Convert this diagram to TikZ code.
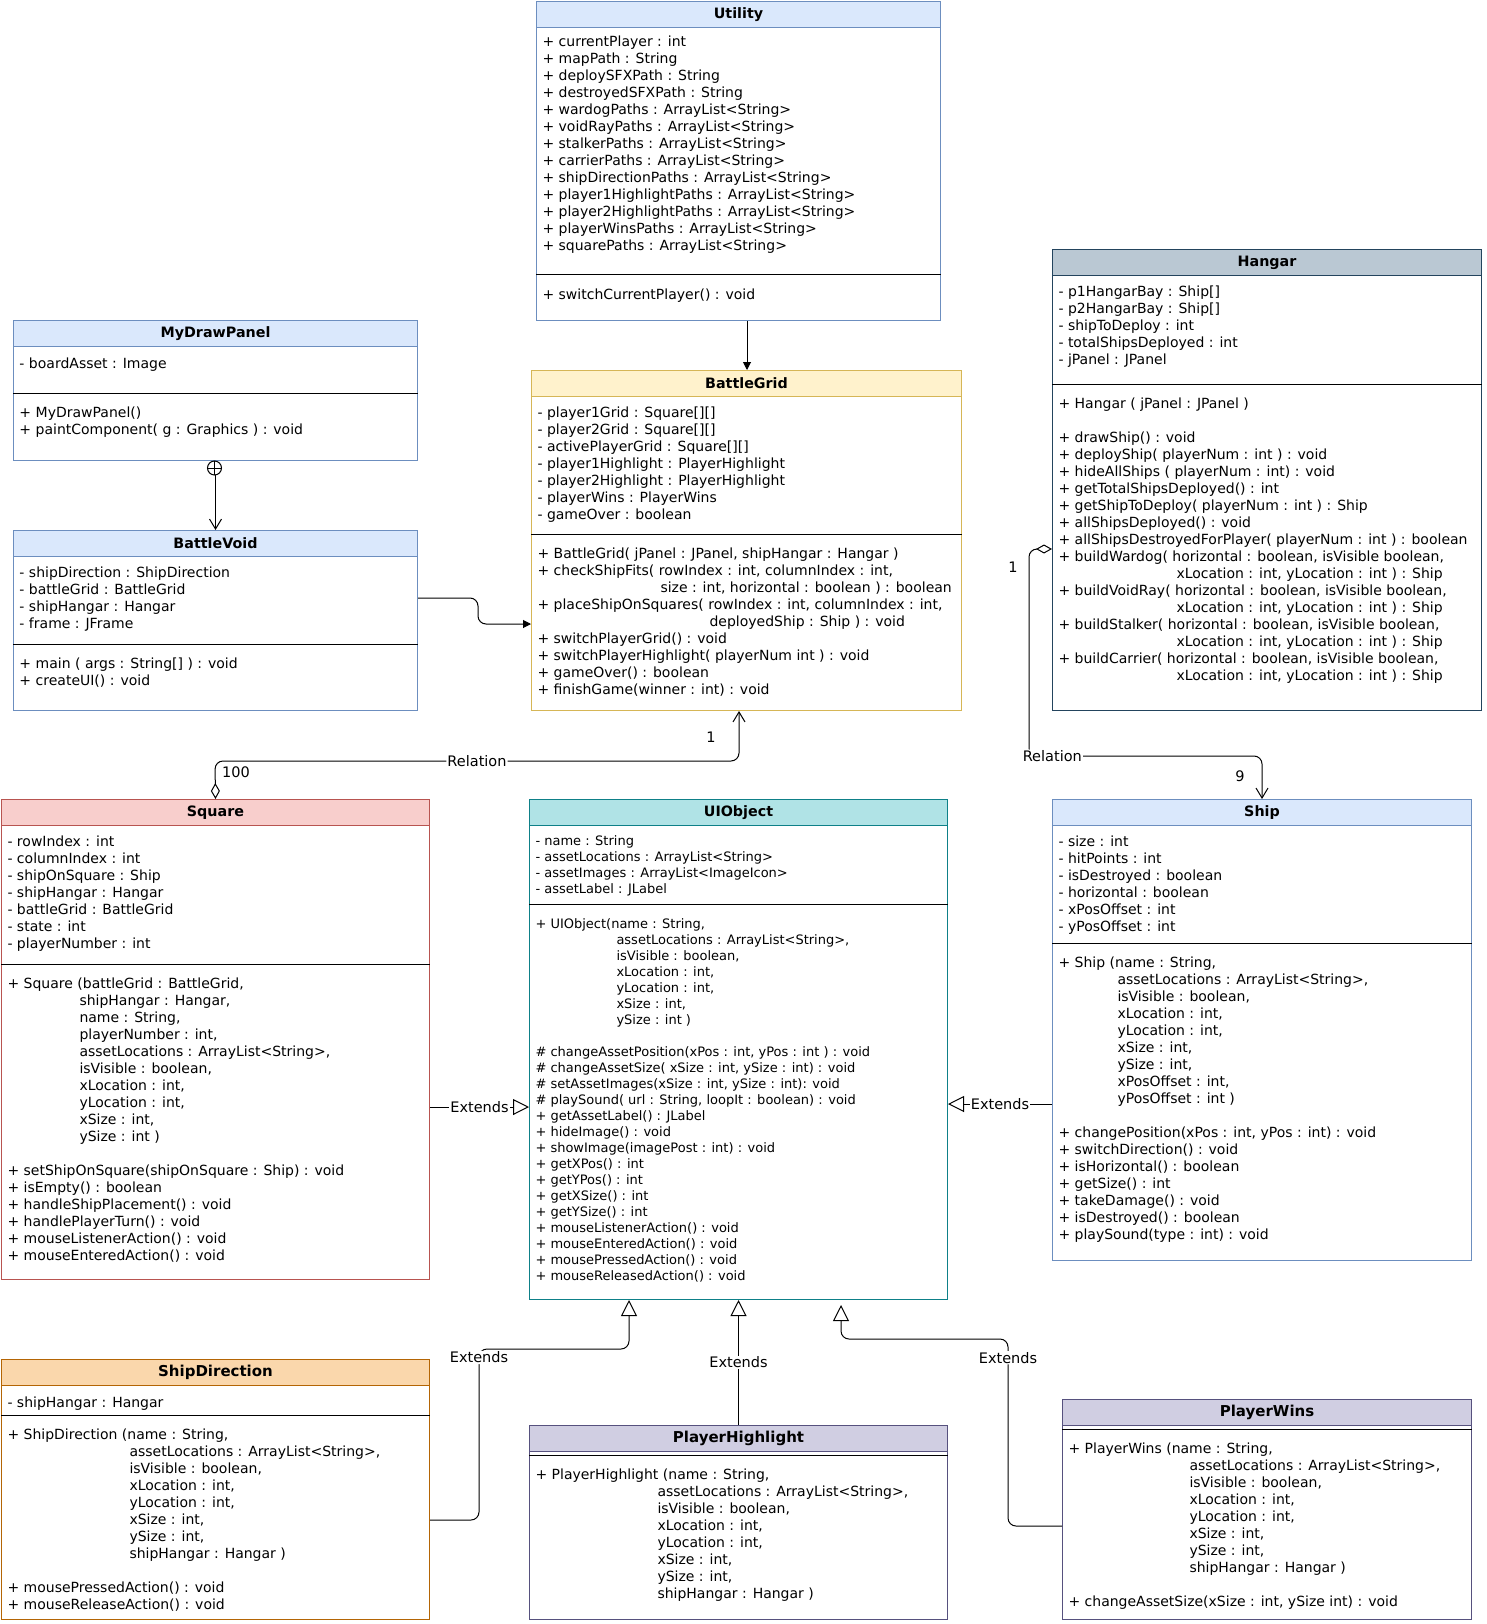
\documentclass[tikz,border=0pt]{standalone}
\usepackage{fontspec}
\setmainfont{DejaVu Sans}
\usetikzlibrary{arrows.meta}
\definecolor{bfill}{HTML}{DAE8FC}\definecolor{bline}{HTML}{6C8EBF}
\definecolor{yfill}{HTML}{FFF2CC}\definecolor{yline}{HTML}{D6B656}
\definecolor{gfill}{HTML}{BAC8D3}\definecolor{gline}{HTML}{23445D}
\definecolor{rfill}{HTML}{F8CECC}\definecolor{rline}{HTML}{B85450}
\definecolor{tfill}{HTML}{B0E3E6}\definecolor{tline}{HTML}{0E8088}
\definecolor{ofill}{HTML}{FAD7AC}\definecolor{oline}{HTML}{B46504}
\definecolor{pfill}{HTML}{D0CEE2}\definecolor{pline}{HTML}{56517E}
\begin{document}
\begin{tikzpicture}[x=1pt,y=-1pt,line width=1pt,
  every node/.style={font=\fontsize{14}{17}\selectfont},
  cbox/.style 2 args={draw,fill=white,anchor=north west,inner sep=0pt,minimum width=#1,minimum height=#2},
  chead/.style={draw,anchor=north,inner sep=0pt,minimum width=#1,minimum height=26,font=\fontsize{14.3}{17}\selectfont\bfseries},
  bighead/.style={font=\fontsize{15}{17}\selectfont\bfseries},
  ctext/.style={anchor=north west,inner sep=0pt,align=left,xshift=6pt,yshift=-9pt,execute at begin node=\strut},
  mtext/.style={ctext,yshift=-4pt},
  uitext/.style={font=\fontsize{13}{16}\selectfont},
  lbl/.style={fill=white,inner sep=1pt,font=\fontsize{14.5}{17}\selectfont},
  inh/.tip={Triangle[open,length=16pt,width=16pt]},
  agg/.tip={Diamond[open,length=16pt,width=9pt]},
  opn/.tip={Straight Barb[length=10pt,width=12pt]},
  fil/.tip={Triangle[length=8pt,width=8pt]}]
\useasboundingbox (0,0) rectangle (1486,1624);

\node[cbox={404}{319},draw=bline] (util) at (536,1) {};
\node[chead=404,fill=bfill,draw=bline] (util-h) at (util.north) {Utility};
\draw (util.west |- 0,274) -- (util.east |- 0,274);
\node[ctext,yshift=1.5pt] (util-a) at (util-h.south west) {+ currentPlayer : int\\+ mapPath : String\\+ deploySFXPath : String\\+ destroyedSFXPath : String\\+ wardogPaths : ArrayList<String>\\+ voidRayPaths : ArrayList<String>\\+ stalkerPaths : ArrayList<String>\\+ carrierPaths : ArrayList<String>\\+ shipDirectionPaths : ArrayList<String>\\+ player1HighlightPaths : ArrayList<String>\\+ player2HighlightPaths : ArrayList<String>\\+ playerWinsPaths : ArrayList<String>\\+ squarePaths : ArrayList<String>};
\node[mtext] (util-m) at (util.west |- 0,274) {+ switchCurrentPlayer() : void};

\node[cbox={404}{140},draw=bline] (mdp) at (13,320) {};
\node[chead=404,fill=bfill,draw=bline] (mdp-h) at (mdp.north) {MyDrawPanel};
\draw (mdp.west |- 0,393) -- (mdp.east |- 0,393);
\node[ctext] (mdp-a) at (mdp-h.south west) {- boardAsset : Image};
\node[mtext] (mdp-m) at (mdp.west |- 0,393) {+ MyDrawPanel()\\+ paintComponent( g : Graphics ) : void};

\node[cbox={404}{180},draw=bline] (bv) at (13,530) {};
\node[chead=404,fill=bfill,draw=bline] (bv-h) at (bv.north) {BattleVoid};
\draw (bv.west |- 0,644) -- (bv.east |- 0,644);
\node[ctext] (bv-a) at (bv-h.south west) {- shipDirection : ShipDirection\\- battleGrid : BattleGrid\\- shipHangar : Hangar\\- frame : JFrame};
\node[mtext] (bv-m) at (bv.west |- 0,644) {+ main ( args : String[] ) : void\\+ createUI() : void};

\node[cbox={430}{340},draw=yline] (bg) at (531,370) {};
\node[chead=430,fill=yfill,draw=yline] (bg-h) at (bg.north) {BattleGrid};
\draw (bg.west |- 0,534) -- (bg.east |- 0,534);
\node[ctext] (bg-a) at (bg-h.south west) {- player1Grid : Square[][]\\- player2Grid : Square[][]\\- activePlayerGrid : Square[][]\\- player1Highlight : PlayerHighlight\\- player2Highlight : PlayerHighlight\\- playerWins : PlayerWins\\- gameOver : boolean};
\node[mtext] (bg-m) at (bg.west |- 0,534) {+ BattleGrid( jPanel : JPanel, shipHangar : Hangar )\\+ checkShipFits( rowIndex : int, columnIndex : int,\\\hspace*{123pt}size : int, horizontal : boolean ) : boolean\\+ placeShipOnSquares( rowIndex : int, columnIndex : int,\\\hspace*{172pt}deployedShip : Ship ) : void\\+ switchPlayerGrid() : void\\+ switchPlayerHighlight( playerNum int ) : void\\+ gameOver() : boolean\\+ finishGame(winner : int) : void};

\node[cbox={429}{461},draw=gline] (hg) at (1052,249) {};
\node[chead=429,fill=gfill,draw=gline] (hg-h) at (hg.north) {Hangar};
\draw (hg.west |- 0,384) -- (hg.east |- 0,384);
\node[ctext] (hg-a) at (hg-h.south west) {- p1HangarBay : Ship[]\\- p2HangarBay : Ship[]\\- shipToDeploy : int\\- totalShipsDeployed : int\\- jPanel : JPanel};
\node[mtext] (hg-m) at (hg.west |- 0,384) {+ Hangar ( jPanel : JPanel )\\[17pt]+ drawShip() : void\\+ deployShip( playerNum : int ) : void\\+ hideAllShips ( playerNum : int) : void\\+ getTotalShipsDeployed() : int\\+ getShipToDeploy( playerNum : int ) : Ship\\+ allShipsDeployed() : void\\+ allShipsDestroyedForPlayer( playerNum : int ) : boolean\\+ buildWardog( horizontal : boolean, isVisible boolean,\\\hspace*{118pt}xLocation : int, yLocation : int ) : Ship\\+ buildVoidRay( horizontal : boolean, isVisible boolean,\\\hspace*{118pt}xLocation : int, yLocation : int ) : Ship\\+ buildStalker( horizontal : boolean, isVisible boolean,\\\hspace*{118pt}xLocation : int, yLocation : int ) : Ship\\+ buildCarrier( horizontal : boolean, isVisible boolean,\\\hspace*{118pt}xLocation : int, yLocation : int ) : Ship};

\node[cbox={428}{480},draw=rline] (sq) at (1,799) {};
\node[chead=428,fill=rfill,draw=rline] (sq-h) at (sq.north) {Square};
\draw (sq.west |- 0,964) -- (sq.east |- 0,964);
\node[ctext] (sq-a) at (sq-h.south west) {- rowIndex : int\\- columnIndex : int\\- shipOnSquare : Ship\\- shipHangar : Hangar\\- battleGrid : BattleGrid\\- state : int\\- playerNumber : int};
\node[mtext] (sq-m) at (sq.west |- 0,964) {+ Square (battleGrid : BattleGrid,\\\hspace*{72pt}shipHangar : Hangar,\\\hspace*{72pt}name : String,\\\hspace*{72pt}playerNumber : int,\\\hspace*{72pt}assetLocations : ArrayList<String>,\\\hspace*{72pt}isVisible : boolean,\\\hspace*{72pt}xLocation : int,\\\hspace*{72pt}yLocation : int,\\\hspace*{72pt}xSize : int,\\\hspace*{72pt}ySize : int )\\[17pt]+ setShipOnSquare(shipOnSquare : Ship) : void\\+ isEmpty() : boolean\\+ handleShipPlacement() : void\\+ handlePlayerTurn() : void\\+ mouseListenerAction() : void\\+ mouseEnteredAction() : void};

\node[cbox={418}{500},draw=tline] (uio) at (529,799) {};
\node[chead=418,fill=tfill,draw=tline] (uio-h) at (uio.north) {UIObject};
\draw (uio.west |- 0,904) -- (uio.east |- 0,904);
\node[ctext,uitext] (uio-a) at (uio-h.south west) {- name : String\\- assetLocations : ArrayList<String>\\- assetImages : ArrayList<ImageIcon>\\- assetLabel : JLabel};
\node[mtext,uitext,yshift=-1pt] (uio-m) at (uio.west |- 0,904) {+ UIObject(name : String,\\\hspace*{81pt}assetLocations : ArrayList<String>,\\\hspace*{81pt}isVisible : boolean,\\\hspace*{81pt}xLocation : int,\\\hspace*{81pt}yLocation : int,\\\hspace*{81pt}xSize : int,\\\hspace*{81pt}ySize : int )\\[16pt]\# changeAssetPosition(xPos : int, yPos : int ) : void\\\# changeAssetSize( xSize : int, ySize : int) : void\\\# setAssetImages(xSize : int, ySize : int): void\\\# playSound( url : String, loopIt : boolean) : void\\+ getAssetLabel() : JLabel\\+ hideImage() : void\\+ showImage(imagePost : int) : void\\+ getXPos() : int\\+ getYPos() : int\\+ getXSize() : int\\+ getYSize() : int\\+ mouseListenerAction() : void\\+ mouseEnteredAction() : void\\+ mousePressedAction() : void\\+ mouseReleasedAction() : void};

\node[cbox={419}{461},draw=bline] (sh) at (1052,799) {};
\node[chead=419,fill=bfill,draw=bline] (sh-h) at (sh.north) {Ship};
\draw (sh.west |- 0,943) -- (sh.east |- 0,943);
\node[ctext] (sh-a) at (sh-h.south west) {- size : int\\- hitPoints : int\\- isDestroyed : boolean\\- horizontal : boolean\\- xPosOffset : int\\- yPosOffset : int};
\node[mtext] (sh-m) at (sh.west |- 0,943) {+ Ship (name : String,\\\hspace*{59pt}assetLocations : ArrayList<String>,\\\hspace*{59pt}isVisible : boolean,\\\hspace*{59pt}xLocation : int,\\\hspace*{59pt}yLocation : int,\\\hspace*{59pt}xSize : int,\\\hspace*{59pt}ySize : int,\\\hspace*{59pt}xPosOffset : int,\\\hspace*{59pt}yPosOffset : int )\\[17pt]+ changePosition(xPos : int, yPos : int) : void\\+ switchDirection() : void\\+ isHorizontal() : boolean\\+ getSize() : int\\+ takeDamage() : void\\+ isDestroyed() : boolean\\+ playSound(type : int) : void};

\node[cbox={428}{260},draw=oline] (sd) at (1,1359) {};
\node[chead=428,bighead,fill=ofill,draw=oline] (sd-h) at (sd.north) {ShipDirection};
\draw (sd.west |- 0,1415) -- (sd.east |- 0,1415);
\node[ctext] (sd-a) at (sd-h.south west) {- shipHangar : Hangar};
\node[mtext] (sd-m) at (sd.west |- 0,1415) {+ ShipDirection (name : String,\\\hspace*{122pt}assetLocations : ArrayList<String>,\\\hspace*{122pt}isVisible : boolean,\\\hspace*{122pt}xLocation : int,\\\hspace*{122pt}yLocation : int,\\\hspace*{122pt}xSize : int,\\\hspace*{122pt}ySize : int,\\\hspace*{122pt}shipHangar : Hangar )\\[17pt]+ mousePressedAction() : void\\+ mouseReleaseAction() : void};

\node[cbox={418}{194},draw=pline] (ph) at (529,1425) {};
\node[chead=418,bighead,fill=pfill,draw=pline] (ph-h) at (ph.north) {PlayerHighlight};
\draw (ph.west |- 0,1455) -- (ph.east |- 0,1455);
\node[mtext] (ph-m) at (ph.west |- 0,1455) {+ PlayerHighlight (name : String,\\\hspace*{122pt}assetLocations : ArrayList<String>,\\\hspace*{122pt}isVisible : boolean,\\\hspace*{122pt}xLocation : int,\\\hspace*{122pt}yLocation : int,\\\hspace*{122pt}xSize : int,\\\hspace*{122pt}ySize : int,\\\hspace*{122pt}shipHangar : Hangar )};

\node[cbox={409}{220},draw=pline] (pw) at (1062,1399) {};
\node[chead=409,bighead,fill=pfill,draw=pline] (pw-h) at (pw.north) {PlayerWins};
\draw (pw.west |- 0,1429) -- (pw.east |- 0,1429);
\node[mtext] (pw-m) at (pw.west |- 0,1429) {+ PlayerWins (name : String,\\\hspace*{121pt}assetLocations : ArrayList<String>,\\\hspace*{121pt}isVisible : boolean,\\\hspace*{121pt}xLocation : int,\\\hspace*{121pt}yLocation : int,\\\hspace*{121pt}xSize : int,\\\hspace*{121pt}ySize : int,\\\hspace*{121pt}shipHangar : Hangar )\\[17pt]+ changeAssetSize(xSize : int, ySize int) : void};

\draw[-fil] (util.south -| 747,0) -- (bg.north -| 747,0);
\draw[-opn] (mdp.south) -- (bv.north);
\draw[fill=white] (214.5,468) circle[radius=7pt];
\draw (207.5,468) -- (221.5,468) (214.5,461) -- (214.5,475);
\draw[rounded corners=8pt,-fil] (bv.east |- 0,598) -- (478,598) -- (478,624) -- (bg.west |- 0,624);
\draw[rounded corners=8pt,agg-opn] (sq.north) -- (215,761) -- node[lbl]{Relation} (739,761) -- (739,0 |- bg.south);
\node[lbl,fill=none] (n100) at (236,772) {100};
\node[lbl,fill=none] (n1a) at (711,737) {1};
\draw[rounded corners=8pt,agg-opn] (hg.west |- 0,549) -- (1029,549) -- (1029,756) -- node[lbl,pos=0.1]{Relation} (1262,756) -- (sh.north);
\node[lbl,fill=none] (n1b) at (1013,567) {1};
\node[lbl,fill=none] (n9) at (1240,776) {9};
\draw[-inh] (sq.east |- 0,1107) -- node[lbl]{Extends} (uio.west |- 0,1107);
\draw[-inh] (sh.west |- 0,1104) -- node[lbl]{Extends} (uio.east |- 0,1104);
\draw[rounded corners=8pt,-inh] (sd.east |- 0,1520) -- (479,1520) -- node[lbl,pos=0.95]{Extends} (479,1349) -- (629,1349) -- (629,0 |- uio.south);
\draw[-inh] (ph.north) -- node[lbl]{Extends} (uio.south);
\draw[rounded corners=8pt,-inh,shorten >=5pt] (pw.west |- 0,1526) -- (1008,1526) -- node[lbl,pos=0.9]{Extends} (1008,1339) -- (841,1339) -- (841,0 |- uio.south);
\end{tikzpicture}
\end{document}
